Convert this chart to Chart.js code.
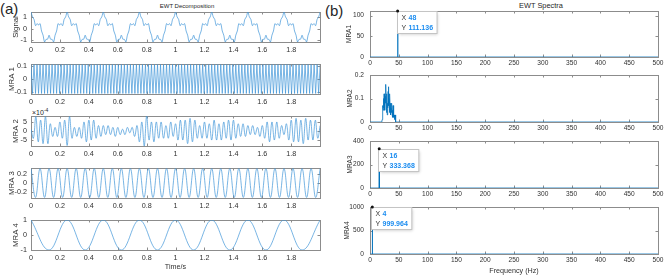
<!DOCTYPE html>
<html>
<head>
<meta charset="utf-8">
<script src="https://cdn.jsdelivr.net/npm/chart.js@4.4.1/dist/chart.umd.min.js"></script>
<style>
  body { margin: 0; background: #fff; font-family: "Liberation Sans", Arial, sans-serif; }
  #wrap { position: relative; width: 665px; height: 276px; overflow: hidden; background: #fff; }
  #wrap canvas { position: absolute; left: 0; top: 0; }
  .txt { position: absolute; white-space: nowrap; color: #262626; line-height: 1; }
  .mid { transform: translateX(-50%); }
  sup { font-size: 5px; vertical-align: 3px; }
</style>
</head>
<body>
<div id="wrap">
  <div class="txt" style="left:0;top:1px;font-size:15px">(a)</div>
  <div class="txt" style="left:325px;top:3px;font-size:15px">(b)</div>
  <div class="txt mid" style="left:187px;top:3px;font-size:6px">EWT Decomposition</div>
  <div class="txt mid" style="left:541px;top:2px;font-size:7.4px">EWT Spectra</div>
  <div class="txt" style="left:32px;top:108px;font-size:7px">&times;10<sup>-4</sup></div>
</div>
<script>
// ---- data ----
const leftNames = ['Signal', 'MRA 1', 'MRA 2', 'MRA 3', 'MRA 4'];
const rightNames = ['MRA1', 'MRA2', 'MRA3', 'MRA4'];
const timeTicks = [0, 0.2, 0.4, 0.6, 0.8, 1, 1.2, 1.4, 1.6, 1.8];
const freqTicks = [0, 50, 100, 150, 200, 250, 300, 350, 400, 450, 500];
const leftYTicks = [[-1, 0, 1], [-0.1, 0, 0.1], [-5, 0, 5], [-0.2, 0, 0.2], [-1, 0, 1]];
const rightYTicks = [[0, 50, 100], [0, 0.1, 0.2], [0, 200, 400], [0, 500, 1000]];
const leftYRange = [[-1.151, 1.444], [-0.115, 0.115], [-8.3, 8.3], [-0.345, 0.345], [-1, 1]];
const rightYMax = [111.136, 0.2, 400, 1000];

// time step (s) between the readings of each left series
const sampleStep = [1 / 96, 1 / 96, 1 / 60, 1 / 32, 1 / 8];

const signalVals = [
  1.44,1.02,0.81,0.26,0.44,0.32,0.44,-0.20,-0.56,-1.15,-0.92,-0.91,-0.56,-0.91,-0.92,-1.15,-0.56,-0.20,0.44,0.32,0.44,0.26,0.81,1.02,
  1.44,1.02,0.81,0.26,0.44,0.32,0.44,-0.20,-0.56,-1.15,-0.92,-0.91,-0.56,-0.91,-0.92,-1.15,-0.56,-0.20,0.44,0.32,0.44,0.26,0.81,1.02,
  1.44,1.02,0.81,0.26,0.44,0.32,0.44,-0.20,-0.56,-1.15,-0.92,-0.91,-0.56,-0.91,-0.92,-1.15,-0.56,-0.20,0.44,0.32,0.44,0.26,0.81,1.02,
  1.44,1.02,0.81,0.26,0.44,0.32,0.44,-0.20,-0.56,-1.15,-0.92,-0.91,-0.56,-0.91,-0.92,-1.15,-0.56,-0.20,0.44,0.32,0.44,0.26,0.81,1.02,
  1.44,1.02,0.81,0.26,0.44,0.32,0.44,-0.20,-0.56,-1.15,-0.92,-0.91,-0.56,-0.91,-0.92,-1.15,-0.56,-0.20,0.44,0.32,0.44,0.26,0.81,1.02,
  1.44,1.02,0.81,0.26,0.44,0.32,0.44,-0.20,-0.56,-1.15,-0.92,-0.91,-0.56,-0.91,-0.92,-1.15,-0.56,-0.20,0.44,0.32,0.44,0.26,0.81,1.02,
  1.44,1.02,0.81,0.26,0.44,0.32,0.44,-0.20,-0.56,-1.15,-0.92,-0.91,-0.56,-0.91,-0.92,-1.15,-0.56,-0.20,0.44,0.32,0.44,0.26,0.81,1.02,
  1.44,1.02,0.81,0.26,0.44,0.32,0.44,-0.20,-0.56,-1.15,-0.92,-0.91,-0.56,-0.91,-0.92,-1.15,-0.56,-0.20,0.44,0.32,0.44,0.26,0.81,1.02,
  1.44
];

const mra1Vals = [
  0.111,-0.111,0.111,-0.111,0.111,-0.111,0.111,-0.111,0.111,-0.111,0.111,-0.111,0.111,-0.111,0.111,-0.111,0.111,-0.111,0.111,-0.111,0.111,-0.111,0.111,-0.111,
  0.111,-0.111,0.111,-0.111,0.111,-0.111,0.111,-0.111,0.111,-0.111,0.111,-0.111,0.111,-0.111,0.111,-0.111,0.111,-0.111,0.111,-0.111,0.111,-0.111,0.111,-0.111,
  0.111,-0.111,0.111,-0.111,0.111,-0.111,0.111,-0.111,0.111,-0.111,0.111,-0.111,0.111,-0.111,0.111,-0.111,0.111,-0.111,0.111,-0.111,0.111,-0.111,0.111,-0.111,
  0.111,-0.111,0.111,-0.111,0.111,-0.111,0.111,-0.111,0.111,-0.111,0.111,-0.111,0.111,-0.111,0.111,-0.111,0.111,-0.111,0.111,-0.111,0.111,-0.111,0.111,-0.111,
  0.111,-0.111,0.111,-0.111,0.111,-0.111,0.111,-0.111,0.111,-0.111,0.111,-0.111,0.111,-0.111,0.111,-0.111,0.111,-0.111,0.111,-0.111,0.111,-0.111,0.111,-0.111,
  0.111,-0.111,0.111,-0.111,0.111,-0.111,0.111,-0.111,0.111,-0.111,0.111,-0.111,0.111,-0.111,0.111,-0.111,0.111,-0.111,0.111,-0.111,0.111,-0.111,0.111,-0.111,
  0.111,-0.111,0.111,-0.111,0.111,-0.111,0.111,-0.111,0.111,-0.111,0.111,-0.111,0.111,-0.111,0.111,-0.111,0.111,-0.111,0.111,-0.111,0.111,-0.111,0.111,-0.111,
  0.111,-0.111,0.111,-0.111,0.111,-0.111,0.111,-0.111,0.111,-0.111,0.111,-0.111,0.111,-0.111,0.111,-0.111,0.111,-0.111,0.111,-0.111,0.111,-0.111,0.111,-0.111,
  0.111
];

// MRA 2 in units of 1e-4
const mra2Vals = [
  1,-4,8,-6,6,-7,8,-7,4,-3,2,-3,5,-4,6,-8,8,-4,2,-3,2,-4,5,-6,6,-5,6,-4,3,-3,
  3,-2,3,-2,2,-3,2,-2,1,-2,2,-1,2,-3,3,-6,5,-8.3,8.3,-5,5,-6,5,-4,5,-4,3,-4,5,-3,
  4,-5,6,-5,6,-7,7,-6,6,-4,3,-4,5,-4,4,-5,6,-5,4,-5,5,-4,6,-5,6,-4,4,-3,4,-3,
  3,-2,3,-2,2,-3,3,-4,5,-6,5,-5,5,-4,3,-2,4,-5,6,-6,7,-6,6,-7,7,-5,6,-5,6,-4,
  3
];

const mra3Vals = [
  0.333,-0.333,0.333,-0.333,0.333,-0.333,0.333,-0.333,0.333,-0.333,0.333,-0.333,0.333,-0.333,0.333,-0.333,
  0.333,-0.333,0.333,-0.333,0.333,-0.333,0.333,-0.333,0.333,-0.333,0.333,-0.333,0.333,-0.333,0.333,-0.333,
  0.333,-0.333,0.333,-0.333,0.333,-0.333,0.333,-0.333,0.333,-0.333,0.333,-0.333,0.333,-0.333,0.333,-0.333,
  0.333,-0.333,0.333,-0.333,0.333,-0.333,0.333,-0.333,0.333,-0.333,0.333,-0.333,0.333,-0.333,0.333,-0.333,
  0.333
];

const mra4Vals = [1,-1,1,-1,1,-1,1,-1,1,-1,1,-1,1,-1,1,-1,1];

// spectra (Hz, magnitude)
const spec1Freq = [0, 47.5, 48, 48.5, 500];
const spec1Amp = [0, 0, 111.136, 0, 0];
const spec2Freq = [0, 20.5, 21, 21.5, 22, 22.5, 23, 23.5, 24, 24.5, 25, 25.5, 26, 26.5, 27, 27.5, 28, 28.5,
  29, 29.5, 30, 30.5, 31, 31.5, 32, 32.5, 33, 33.5, 34, 34.5, 35, 35.5, 36, 36.5, 37, 37.5, 38, 38.5,
  39, 39.5, 40, 40.5, 41, 41.5, 42, 42.5, 43, 43.5, 44, 44.5, 45, 500];
const spec2Amp = [0, 0, 0.01, 0.04, 0.03, 0.07, 0.05, 0.10, 0.06, 0.12, 0.07, 0.10, 0.05, 0.11, 0.08, 0.16, 0.09, 0.12,
  0.04, 0.09, 0.03, 0.08, 0.06, 0.13, 0.15, 0.07, 0.10, 0.04, 0.09, 0.12, 0.05, 0.08, 0.03, 0.06, 0.04, 0.07, 0.08, 0.03,
  0.05, 0.02, 0.07, 0.03, 0.04, 0.02, 0.03, 0.01, 0.02, 0.03, 0.01, 0.01, 0, 0];
const spec3Freq = [0, 15.5, 16, 16.5, 500];
const spec3Amp = [0, 0, 333.368, 0, 0];
const spec4Freq = [0, 3.5, 4, 4.5, 500];
const spec4Amp = [0, 0, 999.964, 0, 0];

const tipX = [48, null, 16, 4];
const tipY = [111.136, null, 333.368, 999.964];

// ---- drawing ----
const FONT = '"Liberation Sans", Arial, sans-serif';
const TXT = '#303030';

const framePlugin = {
  id: 'frame',
  beforeDatasetsDraw(c) {
    const { ctx, chartArea: a, scales } = c;
    ctx.save();
    ctx.strokeStyle = '#8c8c8c';
    ctx.lineWidth = 1;
    ctx.strokeRect(a.left + 0.5, a.top + 0.5, a.width, a.height);
    ctx.beginPath();
    scales.x.ticks.forEach((t) => {
      const px = Math.round(scales.x.getPixelForValue(t.value)) + 0.5;
      ctx.moveTo(px, a.bottom); ctx.lineTo(px, a.bottom - 2.5);
      ctx.moveTo(px, a.top); ctx.lineTo(px, a.top + 2.5);
    });
    scales.y.ticks.forEach((t) => {
      const py = Math.round(scales.y.getPixelForValue(t.value)) + 0.5;
      ctx.moveTo(a.left, py); ctx.lineTo(a.left + 2.5, py);
      ctx.moveTo(a.right, py); ctx.lineTo(a.right - 2.5, py);
    });
    ctx.stroke();
    ctx.restore();
  }
};

function tipPlugin(fx, fy) {
  return {
    id: 'datatip',
    afterDatasetsDraw(c) {
      const { ctx } = c;
      const px = c.scales.x.getPixelForValue(fx);
      const py = c.scales.y.getPixelForValue(fy);
      const v1 = String(fx), v2 = fy.toFixed(3);
      ctx.save();
      ctx.font = 'bold 7px ' + FONT;
      const w = 11 + Math.max(ctx.measureText(v1).width, ctx.measureText(v2).width) + 4;
      const h = 22;
      const bx = Math.round(px) - 0.5, by = Math.round(py) + 0.5;
      ctx.shadowColor = 'rgba(0,0,0,0.22)';
      ctx.shadowBlur = 3;
      ctx.shadowOffsetX = 1;
      ctx.shadowOffsetY = 1;
      ctx.fillStyle = '#fff';
      ctx.fillRect(bx, by, w, h);
      ctx.shadowColor = 'transparent';
      ctx.strokeStyle = '#c4c4c4';
      ctx.lineWidth = 1;
      ctx.strokeRect(bx, by, w, h);
      ctx.textBaseline = 'middle';
      ctx.font = '7px ' + FONT;
      ctx.fillStyle = '#333';
      ctx.fillText('X', bx + 4, by + 7);
      ctx.fillText('Y', bx + 4, by + 16.5);
      ctx.font = 'bold 7px ' + FONT;
      ctx.fillStyle = '#1a8cf0';
      ctx.fillText(v1, bx + 11, by + 7);
      ctx.fillText(v2, bx + 11, by + 16.5);
      ctx.fillStyle = '#111';
      ctx.beginPath();
      ctx.arc(px, py, 1.5, 0, Math.PI * 2);
      ctx.fill();
      ctx.restore();
    }
  };
}

function panel(o) {
  const cv = document.createElement('canvas');
  cv.width = 665;
  cv.height = 276;
  document.getElementById('wrap').appendChild(cv);
  const padL = o.titleX - (o.titleSize * 1.2) / 2;
  return new Chart(cv, {
    type: 'line',
    data: {
      datasets: [{
        data: o.points,
        borderColor: o.color,
        borderWidth: o.bw,
        pointRadius: 0,
        tension: o.tension,
        fill: false
      }]
    },
    options: {
      responsive: false,
      animation: false,
      events: [],
      layout: { padding: { left: padL, top: o.top, right: 665 - o.right, bottom: 276 - o.bottom - o.xH } },
      plugins: { legend: { display: false }, tooltip: { enabled: false } },
      scales: {
        x: {
          type: 'linear', min: o.xMin, max: o.xMax,
          grid: { display: false, drawTicks: false, tickLength: 0 }, border: { display: false },
          afterBuildTicks: (s) => { s.ticks = o.xTicks.map((v) => ({ value: v })); },
          afterFit: (s) => { s.height = o.xH; s.paddingLeft = 0; s.paddingRight = 0; },
          ticks: {
            font: { size: o.tickSize, family: FONT }, color: TXT, padding: o.xPad,
            maxRotation: 0, autoSkip: false, callback: (v) => String(v)
          },
          title: {
            display: !!o.xTitle, text: o.xTitle || '', padding: 0,
            font: { size: 7.2, family: FONT }, color: TXT
          }
        },
        y: {
          type: 'linear', min: o.yMin, max: o.yMax,
          grid: { display: false, drawTicks: false, tickLength: 0 }, border: { display: false },
          afterBuildTicks: (s) => { s.ticks = o.yTicks.map((v) => ({ value: v })); },
          afterFit: (s) => { s.width = o.left - padL; s.paddingTop = 0; s.paddingBottom = 0; },
          ticks: {
            font: { size: o.tickSize, family: FONT }, color: TXT, padding: o.yPad,
            autoSkip: false, callback: (v) => String(v)
          },
          title: {
            display: true, text: o.yTitle, padding: 0,
            font: { size: o.titleSize, family: FONT }, color: TXT
          }
        }
      }
    },
    plugins: [framePlugin].concat(o.extra || [])
  });
}

const leftSeries = [signalVals, mra1Vals, mra2Vals, mra3Vals, mra4Vals];
const leftTops = [12, 64, 116, 168, 220];
const leftTitleX = [15.5, 12, 16, 11.5, 15.5];
const leftTension = [0.3, 0, 0.4, 0.4, 0.4];

leftSeries.forEach((vals, i) => {
  panel({
    points: vals.map((v, k) => ({ x: k * sampleStep[i], y: v })),
    color: '#3f95d8', bw: 0.7, tension: leftTension[i],
    left: 31, right: 320, top: leftTops[i], bottom: leftTops[i] + 30,
    xH: i === 4 ? 21.5 : 14, xPad: 3.5, yPad: 4,
    xMin: 0, xMax: 1.999, xTicks: timeTicks,
    yMin: leftYRange[i][0], yMax: leftYRange[i][1], yTicks: leftYTicks[i],
    tickSize: 7.2, titleSize: 7.8, titleX: leftTitleX[i],
    yTitle: leftNames[i], xTitle: i === 4 ? 'Time/s' : null
  });
});

const rightFreq = [spec1Freq, spec2Freq, spec3Freq, spec4Freq];
const rightAmp = [spec1Amp, spec2Amp, spec3Amp, spec4Amp];
const rightTops = [11, 75, 141, 207];
const rightBottoms = [57, 122, 188, 254];
const rightTitleX = [349, 350, 350, 347];

rightFreq.forEach((freqs, i) => {
  panel({
    points: freqs.map((f, k) => ({ x: f, y: rightAmp[i][k] })),
    color: 'rgb(0,114,189)', bw: 0.8, tension: 0,
    left: 370, right: 658, top: rightTops[i], bottom: rightBottoms[i],
    xH: i === 3 ? 21 : 14, xPad: 2.5, yPad: 6,
    xMin: 0, xMax: 500, xTicks: freqTicks,
    yMin: 0, yMax: rightYMax[i], yTicks: rightYTicks[i],
    tickSize: 6.6, titleSize: 6.5, titleX: rightTitleX[i],
    yTitle: rightNames[i], xTitle: i === 3 ? 'Frequency (Hz)' : null,
    extra: tipX[i] === null ? [] : [tipPlugin(tipX[i], tipY[i])]
  });
});
</script>
</body>
</html>
